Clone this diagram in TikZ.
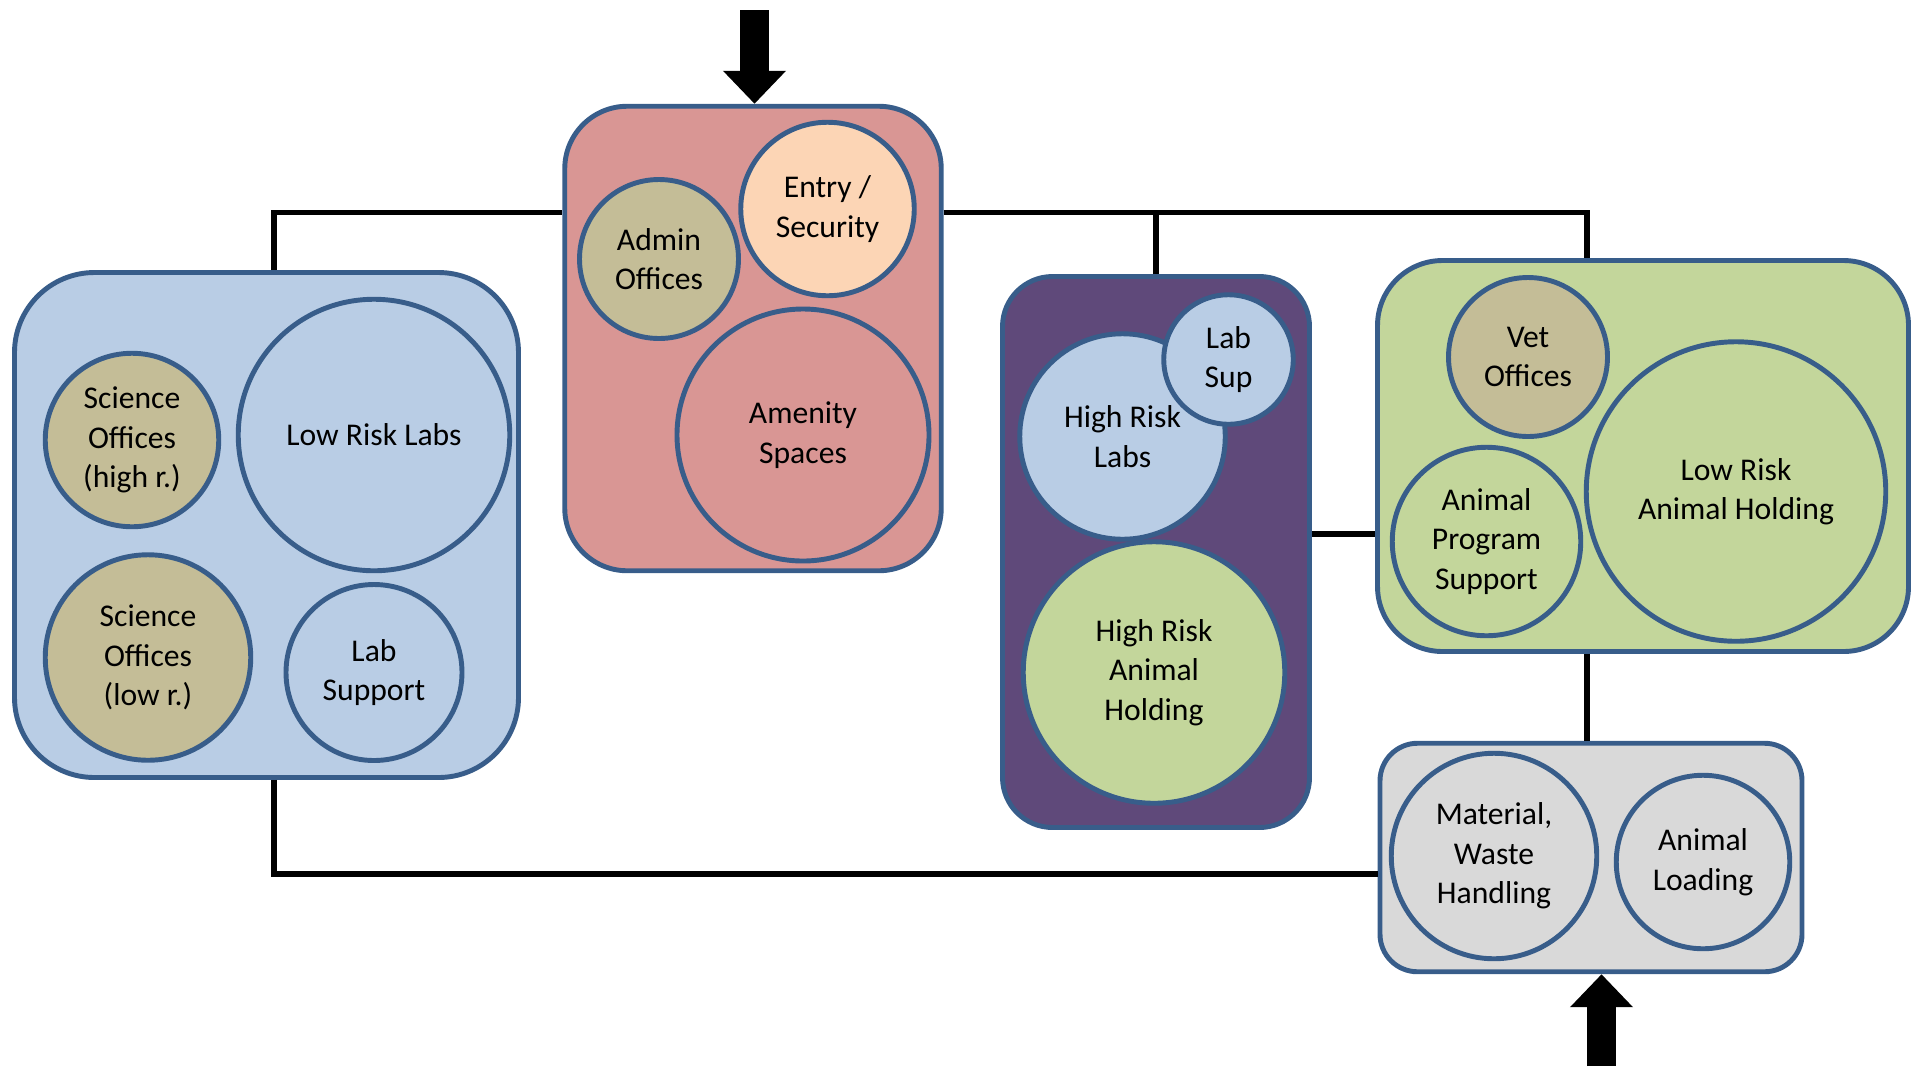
\documentclass[tikz,border=0pt]{standalone}
\usepackage{fontspec}
\setmainfont{Carlito}
\usepackage{xcolor}
\usepackage{tikz}
\usetikzlibrary{arrows.meta}

\definecolor{edgeblue}{HTML}{385D8A}
\definecolor{skyblue}{HTML}{B9CDE5}
\definecolor{tanbox}{HTML}{C4BD97}
\definecolor{rosebox}{HTML}{D99694}
\definecolor{peach}{HTML}{FCD5B5}
\definecolor{plum}{HTML}{5F497A}
\definecolor{olive}{HTML}{C3D69B}
\definecolor{greybox}{HTML}{D9D9D9}

\begin{document}
\begin{tikzpicture}[
        zone/.style={rectangle, draw=edgeblue, line width=2.8pt, rounded corners=#1},
        zone/.default=1.2cm,
        room/.style={circle, draw=edgeblue, line width=2.8pt, inner sep=0pt, align=center, font=\fontsize{18}{22.5}\selectfont},
        link/.style={line width=3.3pt, black},
        bigarrow/.style={line width=0.59cm, black, -{Triangle[width=1.22cm, length=0.66cm]}}
    ]
        \useasboundingbox (0,0) rectangle (38.34,-21.32);

        % Lab wing
        \node[zone=1.6cm, fill=skyblue, minimum width=10.08cm, minimum height=10.10cm] (labbox) at (5.33,-10.50) {};
        \node[room, fill=tanbox, minimum size=3.47cm] (scihigh) at (2.64,-8.80) {Science\\Offices\\(high r.)};
        \node[room, fill=skyblue, minimum size=5.43cm] (lowlabs) at (7.48,-8.70) {Low Risk Labs};
        \node[room, fill=tanbox, minimum size=4.11cm] (scilow) at (2.96,-13.15) {Science\\Offices\\(low r.)};
        \node[room, fill=skyblue, minimum size=3.52cm] (labsupport) at (7.48,-13.45) {Lab\\Support};

        % Front of house
        \node[zone=1.25cm, fill=rosebox, minimum width=7.53cm, minimum height=9.29cm] (frontbox) at (15.06,-6.77) {};
        \node[room, fill=tanbox, minimum size=3.18cm] (admin) at (13.18,-5.18) {Admin\\Offices};
        \node[room, fill=peach, minimum size=3.47cm] (entry) at (16.55,-4.18) {Entry /\\Security};
        \node[room, fill=rosebox, minimum size=5.04cm] (amenity) at (16.06,-8.70) {Amenity\\Spaces};

        % High risk suite
        \node[zone=1.0cm, fill=plum, minimum width=6.14cm, minimum height=11.02cm] (riskbox) at (23.12,-11.04) {};
        \node[room, fill=skyblue, minimum size=4.11cm] (hrlabs) at (22.45,-8.73) {High Risk\\Labs};
        \node[room, fill=skyblue, minimum size=2.59cm] (labsup) at (24.57,-7.19) {Lab\\Sup};
        \node[room, fill=olive, minimum size=5.23cm] (hrholding) at (23.08,-13.45) {High Risk\\Animal\\Holding};

        % Vivarium
        \node[zone=1.3cm, fill=olive, minimum width=10.62cm, minimum height=7.82cm] (animalbox) at (32.86,-9.12) {};
        \node[room, fill=tanbox, minimum size=3.18cm] (vet) at (30.56,-7.14) {Vet\\Offices};
        \node[room, fill=olive, minimum size=3.77cm] (progsup) at (29.73,-10.83) {Animal\\Program\\Support};
        \node[room, fill=olive, minimum size=5.99cm] (lowholding) at (34.72,-9.83) {Low Risk\\Animal Holding};

        % Service dock
        \node[zone=0.75cm, fill=greybox, minimum width=8.44cm, minimum height=4.57cm] (loadbox) at (31.82,-17.15) {};
        \node[room, fill=greybox, minimum size=4.11cm] (waste) at (29.88,-17.12) {Material,\\Waste\\Handling};
        \node[room, fill=greybox, minimum size=3.47cm] (loading) at (34.06,-17.24) {Animal\\Loading};

        % Corridors
        \coordinate (hall) at (0,-4.25);
        \coordinate (bridge) at (0,-10.68);
        \coordinate (yard) at (0,-17.48);
        \coordinate (entrance) at (15.09,-0.20);
        \coordinate (dock) at (32.03,-21.32);

        \draw[link] ([xshift=0.15cm]labbox.north) |- (frontbox.west |- hall);
        \draw[link] (frontbox.east |- hall) -| ([xshift=-0.08cm]animalbox.north -| loadbox.north);
        \draw[link] (riskbox.north) -- (riskbox.north |- hall);
        \draw[link] (riskbox.east |- bridge) -- (animalbox.west |- bridge);
        \draw[link] ([xshift=-0.08cm]animalbox.south -| loadbox.north) -- ([xshift=-0.08cm]loadbox.north);
        \draw[link] ([xshift=0.15cm]labbox.south) |- (loadbox.west |- yard);

        % Entrances
        \draw[bigarrow] (entrance) -- (entrance |- frontbox.north);
        \draw[bigarrow] (dock) -- (dock |- loadbox.south);
    \end{tikzpicture}
\end{document}
